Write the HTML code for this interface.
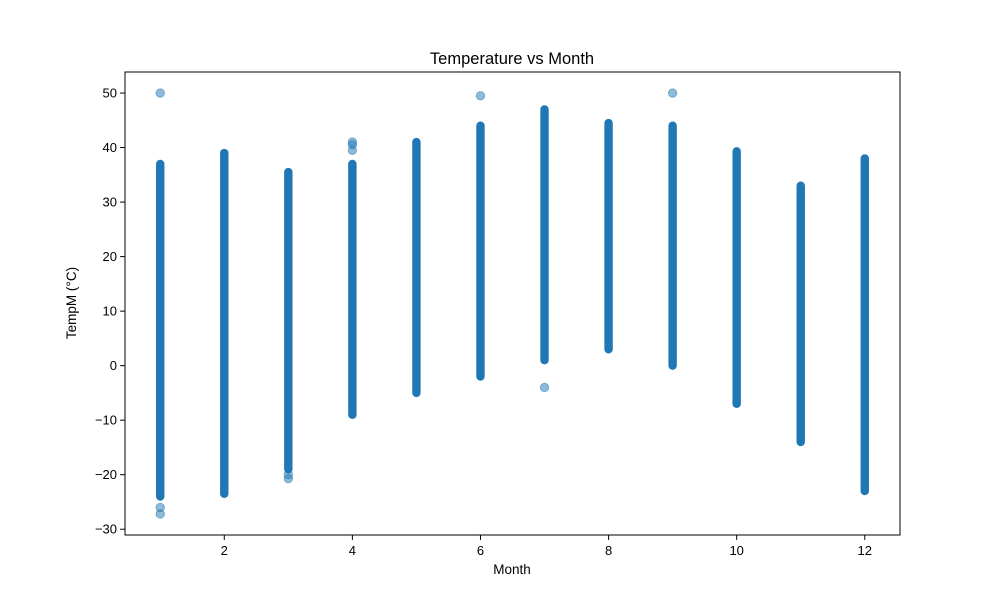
<!DOCTYPE html>
<html><head><meta charset="utf-8"><style>
body{margin:0;background:#fff}
svg{display:block;font-family:"Liberation Sans","DejaVu Sans",sans-serif}
</style></head><body>
<svg id="chart" width="1000" height="600" viewBox="0 0 1000 600">
<rect x="0" y="0" width="1000" height="600" fill="#fff"/>
<g id="marks"></g>
<rect x="125" y="72" width="775" height="463" fill="none" stroke="#000" stroke-width="1"/>
<g id="xticks"></g>
<g id="yticks"></g>
<text x="512" y="64" text-anchor="middle" font-size="16.5">Temperature vs Month</text>
<text x="512" y="574" text-anchor="middle" font-size="13.5">Month</text>
<text transform="translate(76,303) rotate(-90)" text-anchor="middle" font-size="13.5">TempM (°C)</text>
</svg>
<script>
const months = [1,2,3,4,5,6,7,8,9,10,11,12];
const monthMin = [-24,-23.5,-19,-9,-5,-2,1,3,0,-7,-14,-23];
const monthMax = [37,39,35.5,37,41,44,47,44.5,44,39.3,33,38];
const outlierMonths = [1,1,1,3,3,4,4,4,6,7,9];
const outlierTemps = [50,-26,-27.2,-20,-20.7,39.5,40.5,41,49.5,-4,50];
const xTicks = [2,4,6,8,10,12];
const yTicks = [-30,-20,-10,0,10,20,30,40,50];

const L=125,R=900,T=72,B=535;
const xMin=0.45,xMax=12.55,yMin=-31.06,yMax=53.86;
const xs=v=>L+(v-xMin)/(xMax-xMin)*(R-L);
const ys=v=>B-(v-yMin)/(yMax-yMin)*(B-T);
const NS="http://www.w3.org/2000/svg";
const marks=document.getElementById('marks');
const col="#1f77b4", rad=4.2;

months.forEach((m,i)=>{
  const r=document.createElementNS(NS,'rect');
  const y1=ys(monthMax[i]), y2=ys(monthMin[i]);
  r.setAttribute('x',xs(m)-rad); r.setAttribute('width',rad*2);
  r.setAttribute('y',y1-rad); r.setAttribute('height',y2-y1+rad*2);
  r.setAttribute('rx',rad); r.setAttribute('fill',col);
  
  
  marks.appendChild(r);
});
outlierMonths.forEach((m,i)=>{
  const c=document.createElementNS(NS,'circle');
  c.setAttribute('cx',xs(m)); c.setAttribute('cy',ys(outlierTemps[i]));
  c.setAttribute('r',rad); c.setAttribute('fill',col); c.setAttribute('fill-opacity',0.5);
  c.setAttribute('stroke',col); c.setAttribute('stroke-opacity',0.5);
  
  
  marks.appendChild(c);
});
const xg=document.getElementById('xticks');
xTicks.forEach(v=>{
  const l=document.createElementNS(NS,'line');
  l.setAttribute('x1',xs(v));l.setAttribute('x2',xs(v));l.setAttribute('y1',B);l.setAttribute('y2',B+4.9);
  l.setAttribute('stroke','#000');
  
  
  xg.appendChild(l);
  const t=document.createElementNS(NS,'text');
  t.setAttribute('x',xs(v));t.setAttribute('y',B+20);t.setAttribute('text-anchor','middle');t.setAttribute('font-size','13');
  t.textContent=v;
  
  
  xg.appendChild(t);
});
const yg=document.getElementById('yticks');
yTicks.forEach(v=>{
  const l=document.createElementNS(NS,'line');
  l.setAttribute('x1',L-4.9);l.setAttribute('x2',L);l.setAttribute('y1',ys(v));l.setAttribute('y2',ys(v));
  l.setAttribute('stroke','#000');
  
  
  yg.appendChild(l);
  const t=document.createElementNS(NS,'text');
  t.setAttribute('x',L-8);t.setAttribute('y',ys(v)+4.5);t.setAttribute('text-anchor','end');t.setAttribute('font-size','13');
  t.textContent=v<0?'\u2212'+Math.abs(v):v;
  
  
  yg.appendChild(t);
});
</script>
</body></html>
